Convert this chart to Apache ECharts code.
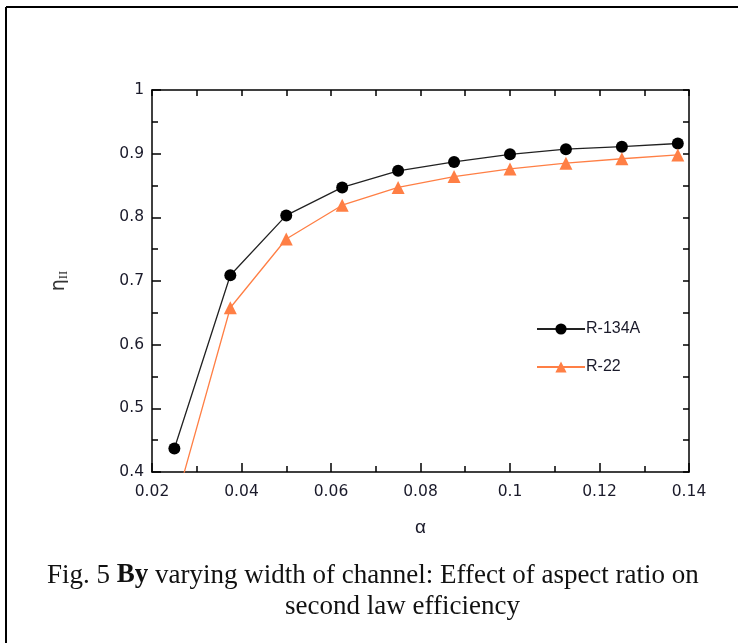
<!DOCTYPE html>
<html><head><meta charset="utf-8">
<script src="https://cdn.jsdelivr.net/npm/echarts@6/dist/echarts.min.js"></script>
<style>html,body{margin:0;padding:0;background:#fff}#c{width:738px;height:643px}</style>
</head><body><div id="c"></div>
<script>
const alphaValues = [0.025, 0.0375, 0.05, 0.0625, 0.075, 0.0875, 0.1, 0.1125, 0.125, 0.1375];
const r134a = [0.437, 0.709, 0.803, 0.847, 0.873, 0.887, 0.899, 0.907, 0.911, 0.916];
const r22 = [0.344, 0.658, 0.766, 0.819, 0.847, 0.864, 0.876, 0.885, 0.892, 0.898];
const seriesNames = ['R-134A', 'R-22'];
const captionLine1 = ['Fig. 5 ', 'By', ' varying width of channel: Effect of aspect ratio on'];
const captionLine2 = 'second law efficiency';

const chart = echarts.init(document.getElementById('c'));
const tickFont = {fontFamily: 'DejaVu Sans', fontSize: 15.5, color: '#1a1a2a'};
const axLine = {show: true, lineStyle: {color: '#000', width: 1.5}};
chart.setOption({
  animation: false,
  backgroundColor: '#fff',
  grid: {left: 152, top: 90, right: 49, bottom: 171},
  legend: {
    orient: 'vertical', left: 531, top: 316, itemWidth: 48, itemHeight: 14, itemGap: 22,
    textStyle: {fontFamily: 'Liberation Sans, Arial', fontSize: 16, color: '#1a1a2a', padding: [0,0,0,-4]},
    data: seriesNames
  },
  xAxis: [{
    type: 'value', min: 0.02, max: 0.14, interval: 0.02, position: 'bottom',
    axisLine: axLine,
    axisTick: {show: true, inside: true, length: 9, lineStyle: {color: '#000', width: 1.5}},
    minorTick: {show: true, splitNumber: 2, length: 6, lineStyle: {color: '#000', width: 1.5}},
    splitLine: {show: false}, minorSplitLine: {show: false},
    axisLabel: Object.assign({margin: 12}, tickFont),
    name: 'α', nameLocation: 'middle', nameGap: 46,
    nameTextStyle: {fontFamily: 'Liberation Sans, Arial', fontSize: 19, color: '#1a1a2a'}
  }, {
    type: 'value', min: 0.02, max: 0.14, interval: 0.01, position: 'top',
    axisLine: axLine,
    axisTick: {show: true, inside: true, length: 6, lineStyle: {color: '#000', width: 1.5}},
    axisLabel: {show: false}, splitLine: {show: false}
  }],
  yAxis: [{
    type: 'value', min: 0.4, max: 1, interval: 0.1, position: 'left',
    axisLine: axLine,
    axisTick: {show: true, inside: true, length: 9, lineStyle: {color: '#000', width: 1.5}},
    minorTick: {show: true, splitNumber: 2, length: 6, lineStyle: {color: '#000', width: 1.5}},
    splitLine: {show: false}, minorSplitLine: {show: false},
    axisLabel: Object.assign({margin: 8}, tickFont),
    name: '{a|η}{b|II}', nameLocation: 'middle', nameGap: 82, nameRotate: 90,
    nameTextStyle: {
      rich: {
        a: {fontFamily: 'DejaVu Sans', fontSize: 19, color: '#333'},
        b: {fontFamily: 'Liberation Serif', fontSize: 13, color: '#333', padding: [9,0,0,0]}
      }
    }
  }, {
    type: 'value', min: 0.4, max: 1, interval: 0.05, position: 'right',
    axisLine: axLine,
    axisTick: {show: true, inside: true, length: 6, lineStyle: {color: '#000', width: 1.5}},
    axisLabel: {show: false}, splitLine: {show: false}
  }],
  series: [{
    name: seriesNames[0], type: 'line', xAxisIndex: 0, yAxisIndex: 0, clip: true,
    data: alphaValues.map((a, i) => [a, r134a[i]]),
    symbol: 'circle', symbolSize: 12,
    lineStyle: {color: '#222', width: 1.3},
    itemStyle: {color: '#000'}
  }, {
    name: seriesNames[1], type: 'line', xAxisIndex: 0, yAxisIndex: 0, clip: true,
    data: alphaValues.map((a, i) => [a, r22[i]]),
    symbol: 'triangle', symbolSize: 13,
    lineStyle: {color: '#ff7f45', width: 1.3},
    itemStyle: {color: '#ff7f45'}
  }],
  graphic: [
    {type: 'line', shape: {x1: 6, y1: 7, x2: 738, y2: 7}, style: {stroke: '#000', lineWidth: 2}},
    {type: 'line', shape: {x1: 6, y1: 7, x2: 6, y2: 643}, style: {stroke: '#000', lineWidth: 2}},
    {type: 'text', left: 47, top: 562,
      style: {
        text: '{n|' + captionLine1[0] + '}{b|' + captionLine1[1] + '}{n|' + captionLine1[2] + '}',
        rich: {
          n: {fontFamily: 'Liberation Serif', fontSize: 27, fill: '#111', color: '#111'},
          b: {fontFamily: 'Liberation Serif', fontSize: 27, fontWeight: 'bold', fill: '#111', color: '#111'}
        }
      }},
    {type: 'text', left: 285, top: 593,
      style: {text: captionLine2, font: '27px "Liberation Serif"', fill: '#111'}}
  ]
});
</script></body></html>
